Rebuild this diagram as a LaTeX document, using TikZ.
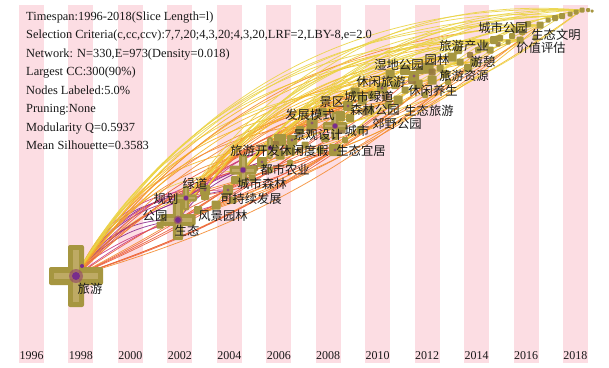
\documentclass[tikz,border=0pt]{standalone}
\usepackage{fontspec}
\setmainfont{Liberation Serif}
\newfontfamily\cjk{Noto Sans CJK SC}
\definecolor{stripe}{RGB}{252,221,227}
\definecolor{olv}{RGB}{166,150,64}
\definecolor{olvd}{RGB}{150,120,62}
\definecolor{olvin}{RGB}{190,170,100}
\definecolor{brn}{RGB}{150,80,100}
\definecolor{pur}{RGB}{120,45,140}
\definecolor{e1}{RGB}{140,40,140}
\definecolor{e2}{RGB}{200,60,130}
\definecolor{e3}{RGB}{235,95,60}
\definecolor{e4}{RGB}{245,140,50}
\definecolor{e5}{RGB}{245,185,40}
\definecolor{e6}{RGB}{235,212,70}
\definecolor{txt}{RGB}{25,25,25}
\tikzset{
  pics/cross/.style={code={
    \fill[olv,rounded corners=2] (-27*#1,-9*#1) rectangle (27*#1,9*#1);
    \fill[olv,rounded corners=2] (-8*#1,-31*#1) rectangle (8*#1,31*#1);
    \fill[olvin] (-22*#1,-3*#1) rectangle (22*#1,3*#1);
    \fill[olvin] (-3*#1,-26*#1) rectangle (3*#1,26*#1);
    \fill[brn,opacity=0.7] (0,0) circle (7*#1);
    \fill[pur] (0,0) circle (3*#1+1);
  }},
  pics/sq/.style={code={
    \fill[olv,rounded corners=1] (-#1/2,-#1/2) rectangle (#1/2,#1/2);
  }},
  pics/sqd/.style={code={
    \fill[olvd,rounded corners=1,opacity=0.9] (-#1/2,-#1/2) rectangle (#1/2,#1/2);
  }},
  lab/.style={font=\cjk\fontsize{12.3}{12.3}\selectfont, text=txt, inner sep=0pt},
  hdr/.style={font=\fontsize{12.4}{12.4}\selectfont, text=txt, inner sep=0pt, anchor=base west},
  yr/.style={font=\fontsize{12}{12}\selectfont, text=txt, inner sep=0pt, anchor=base},
  edge/.style={line width=0.75pt, opacity=0.9},
}
\begin{document}
\begin{tikzpicture}[x=1pt,y=-1pt]
\useasboundingbox (0,0) rectangle (609,367);
\fill[white] (0,0) rectangle (609,367);
% stripes
\foreach \i in {0,...,11}
  \fill[stripe] (19+\i*49.45,5) rectangle (44+\i*49.45,363);
% node coordinates
\coordinate (A) at (76,276);
\coordinate (A2) at (82,266);
\coordinate (P1) at (178,220);
\coordinate (P2) at (186,198);
\coordinate (P3) at (205,190);
\coordinate (P4) at (216,205);
\coordinate (P5) at (228,190);
\coordinate (P6) at (243,170);
\coordinate (P7) at (262,162);
\coordinate (P8) at (270,148);
\coordinate (P9) at (292,140);
\coordinate (P10) at (312,123);
\coordinate (P11) at (335,126);
\coordinate (P12) at (335,150);
\coordinate (P13) at (348,106);
\coordinate (P14) at (362,100);
\coordinate (P15) at (382,88);
\coordinate (P16) at (398,100);
\coordinate (P17) at (414,76);
\coordinate (P18) at (432,80);
\coordinate (P19) at (452,57);
\coordinate (P20) at (474,62);
\coordinate (P21) at (494,40);
\coordinate (P22) at (520,40);
\coordinate (P23) at (540,25);
\coordinate (P24) at (562,16);
\coordinate (P25) at (582,10);
% edges
\foreach \s/\t/\b/\c in {
 A2/P1/18/e1, A2/P1/8/e2, A2/P2/22/e1, A2/P2/12/e2, A2/P3/25/e1, A2/P3/14/e5, A/P4/10/e2, A2/P5/18/e1,
 A2/P2/30/e1, A2/P3/32/e2, A2/P5/28/e2, A2/P1/28/e1,
 A/P6/20/e2, A/P6/28/e6, A/P7/15/e3, A/P8/22/e4, A/P8/30/e5, A/P9/12/e3, A/P10/25/e4, A/P11/18/e3,
 A/P12/8/e3, A/P13/28/e5, A/P14/22/e4, A/P15/30/e6, A/P16/15/e4, A/P17/26/e5, A/P18/20/e4, A/P19/30/e6,
 A/P20/24/e5, A/P21/30/e6, A/P22/26/e5, A/P23/30/e6, A/P25/30/e6, A/P24/28/e6, A/P21/27/e5, A/P23/25/e4,
 A/P12/-8/e3, A/P9/-6/e3, A/P16/-10/e4, A/P11/-5/e3, A/P14/-8/e3, A/P18/-10/e3, A/P20/-12/e4, A/P13/-4/e4,
 P1/P6/15/e1, P1/P8/20/e2, P1/P10/22/e3, P1/P12/10/e3, P1/P13/25/e4, P1/P15/25/e5, P1/P17/28/e5,
 P1/P19/28/e6, P1/P21/30/e6, P1/P23/30/e6,
 P2/P6/12/e2, P2/P7/8/e1, P2/P9/18/e3, P2/P11/20/e4, P2/P14/25/e4, P2/P16/18/e4, P2/P18/25/e5,
 P2/P20/26/e5, P2/P22/28/e6, P2/P24/30/e6,
 P3/P8/15/e2, P3/P10/20/e3, P3/P13/22/e4, P3/P15/24/e5, P3/P19/26/e5, P3/P21/28/e6, P3/P25/30/e6,
 P1/P16/-8/e3, P1/P18/-10/e4, P2/P12/-10/e3, P1/P20/-12/e4, P1/P22/-10/e4, P2/P17/-12/e3, P3/P20/-10/e4,
 P4/P10/15/e3, P4/P13/20/e4, P4/P17/22/e5, P4/P21/25/e6, P5/P11/12/e3, P5/P15/20/e4, P5/P19/24/e5,
 P5/P23/26/e6, P6/P10/10/e3, P6/P12/-8/e4, P6/P14/15/e4, P6/P17/20/e5, P6/P20/22/e5, P6/P22/25/e6,
 P6/P24/25/e6, P7/P13/15/e4, P7/P16/10/e4, P7/P19/20/e5, P7/P25/25/e6,
 P6/P25/-10/e5, P8/P24/-8/e6, P12/P23/-10/e5, P11/P25/-12/e6, P7/P22/-10/e4, P9/P21/-12/e5,
 P12/P20/-12/e4, P10/P23/-8/e5, P4/P18/-10/e4,
 P8/P13/12/e4, P8/P15/18/e4, P8/P18/15/e5, P8/P21/20/e6, P8/P23/22/e6, P8/P25/25/e6, P9/P14/10/e4,
 P9/P17/15/e5, P9/P22/20/e6,
 P10/P15/12/e5, P10/P19/18/e5, P10/P24/22/e6, P11/P16/10/e5, P11/P20/15/e5, P11/P23/20/e6,
 P12/P18/10/e5, P12/P22/15/e6, P13/P19/15/e5, P13/P25/20/e6, P14/P21/15/e6, P15/P20/10/e6,
 P15/P23/15/e6, P16/P22/12/e6, P17/P24/15/e6, P18/P25/15/e6, P19/P23/10/e6, P20/P24/8/e6, P21/P25/10/e6}
  \draw[edge,\c] (\s) to[bend left=\b] (\t);
% filler blobs
\foreach \x/\y/\w in {205/196/8, 235/180/8, 252/178/7, 280/155/9, 300/130/8, 305/145/7, 325/138/8,
 350/118/8, 360/130/7, 370/110/8, 388/105/7, 395/85/8, 405/90/7, 420/70/8, 425/95/6, 440/68/7,
 448/82/6, 460/62/7, 478/50/6, 485/45/7, 500/38/6, 508/42/5, 515/30/6, 528/24/6, 535/38/5, 548/20/5,
 555/18/6, 570/14/5, 576/12/5, 588/10/4, 592/11/3, 233/200/7, 290/163/6, 320/150/7, 345/140/6,
 270/170/6, 198/210/8, 160/225/7, 280/140/12, 290/150/10, 322/112/9, 340/116/10, 355/92/9, 372/95/8,
 390/74/9, 405/70/10, 418/84/9, 428/68/11, 445/74/8, 458/50/8, 468/68/8, 490/50/7, 512/36/6, 522/32/6}
  \pic at (\x,\y) {sq=\w};
\foreach \x/\y/\w in {275/145/8, 310/130/7, 342/130/7, 365/112/7, 385/96/7, 412/80/8, 432/72/7,
 470/55/6, 498/44/5, 225/196/6, 255/168/6, 300/150/6}
  \pic at (\x,\y) {sqd=\w};
% main blobs
\pic at (A) {cross=1};
\fill[pur] (A2) circle (2);
\pic at (P1) {cross=0.65};
\pic at (P2) {cross=0.4};
\foreach \n/\w in {P3/10, P4/9, P5/10, P7/10, P9/10, P10/11, P12/12, P13/10, P14/9, P15/10,
 P16/9, P17/10, P18/9, P19/9, P20/8, P21/8, P22/7, P23/7, P24/6, P25/5}
  \pic at (\n) {sq=\w};
\pic at (P6) {cross=0.5};
\pic at (P8) {cross=0.35};
\pic at (P11) {cross=0.45};
\foreach \n in {P3,P5,P7,P9,P10,P12,P13,P15,P17}
  \fill[pur,opacity=0.6] (\n) circle (1.6);
% labels
\node[lab] (l1) at (90,289) {旅游};
\node[lab] (l2) at (155,216) {公园};
\node[lab] (l3) at (166,199) {规划};
\node[lab] (l4) at (195,184) {绿道};
\node[lab] (l5) at (187,231) {生态};
\node[lab] (l6) at (223,216) {风景园林};
\node[lab] (l7) at (251,199) {可持续发展};
\node[lab] (l8) at (262,184) {城市森林};
\node[lab] (l9) at (285,170) {都市农业};
\node[lab] (l10) at (255,151) {旅游开发};
\node[lab] (l11) at (304,151) {休闲度假};
\node[lab] (l12) at (361,151) {生态宜居};
\node[lab] (l13) at (318,135) {景观设计};
\node[lab] (l14) at (357,131) {城市};
\node[lab] (l15) at (310,115) {发展模式};
\node[lab] (l16) at (332,102) {景区};
\node[lab] (l17) at (369,97) {城市绿道};
\node[lab] (l18) at (375,110) {森林公园};
\node[lab] (l19) at (397,124) {郊野公园};
\node[lab] (l20) at (429,111) {生态旅游};
\node[lab] (l21) at (381,82) {休闲旅游};
\node[lab] (l22) at (433,91) {休闲养生};
\node[lab] (l23) at (399,65) {湿地公园};
\node[lab] (l24) at (437,60) {园林};
\node[lab] (l25) at (464,76) {旅游资源};
\node[lab] (l26) at (483,62) {游憩};
\node[lab] (l27) at (464,46) {旅游产业};
\node[lab] (l28) at (503,28) {城市公园};
\node[lab] (l29) at (556,35) {生态文明};
\node[lab] (l30) at (541,48) {价值评估};
% header
\node[hdr] (h1) at (26,20) {Timespan:1996-2018(Slice Length=l)};
\node[hdr] (h2) at (26,38.5) {Selection Criteria(c,cc,ccv):7,7,20;4,3,20;4,3,20,LRF=2,LBY-8,e=2.0};
\node[hdr] (h3) at (26,57) {Network: N=330,E=973(Density=0.018)};
\node[hdr] (h4) at (26,75.5) {Largest CC:300(90\%)};
\node[hdr] (h5) at (26,94) {Nodes Labeled:5.0\%};
\node[hdr] (h6) at (26,112.5) {Pruning:None};
\node[hdr] (h7) at (26,131) {Modularity Q=0.5937};
\node[hdr] (h8) at (26,149.5) {Mean Silhouette=0.3583};
% years
\foreach \yy [count=\i from 0] in {1996,1998,2000,2002,2004,2006,2008,2010,2012,2014,2016,2018}
  \node[yr] (y\yy) at (31.5+\i*49.45,359) {\yy};
\end{tikzpicture}
\end{document}
